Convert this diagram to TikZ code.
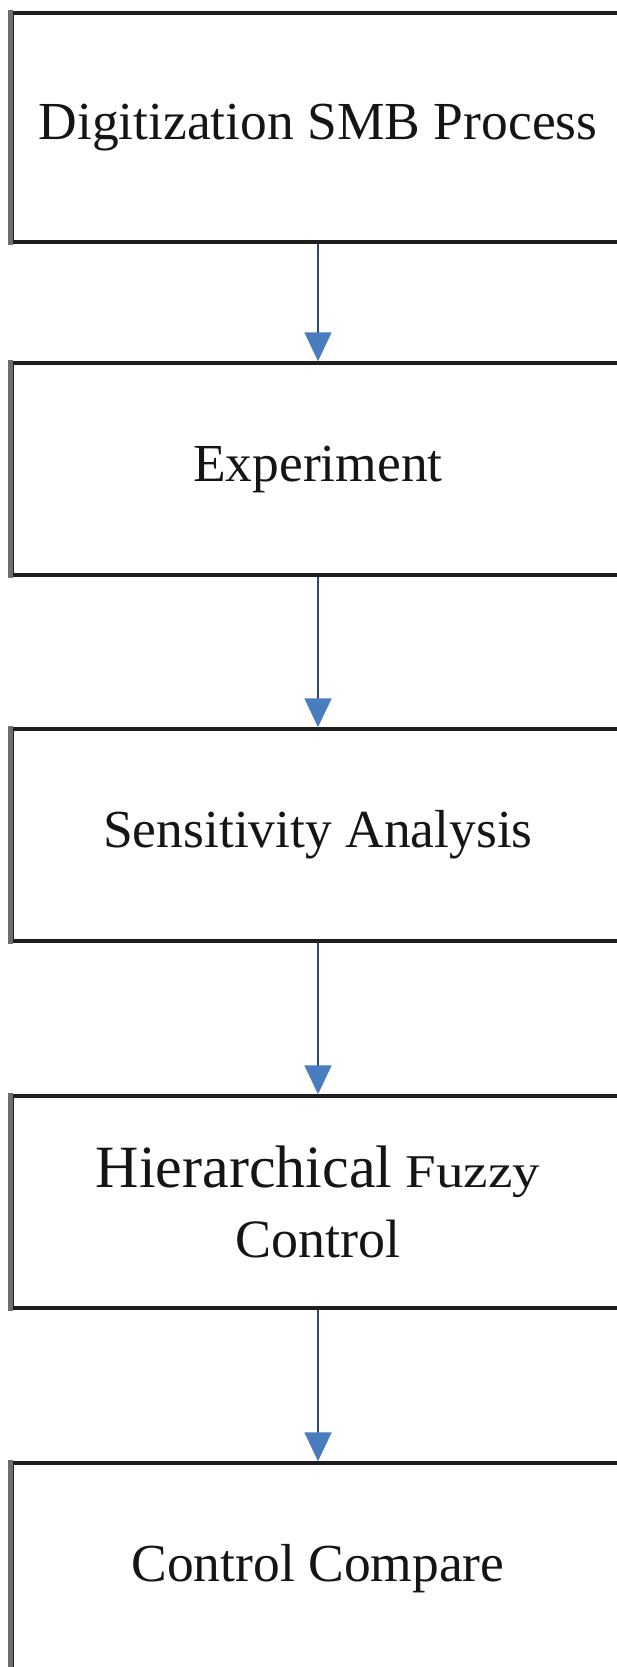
\documentclass[tikz,border=0pt]{standalone}
\usepackage{fontspec}
\setmainfont{Liberation Serif}
\usetikzlibrary{arrows.meta}
\definecolor{arrowblue}{HTML}{4A7CC0}
\definecolor{arrowline}{HTML}{2E4A70}
\definecolor{boxline}{HTML}{1E1E1E}
\definecolor{leftline}{HTML}{6E6E6E}
\definecolor{textcol}{HTML}{151515}
\tikzset{
  stepbox/.style={draw=boxline, line width=3.5pt, fill=white, minimum width=612pt,
    text=textcol, align=center, inner sep=0pt, font=\fontsize{53.5}{64}\selectfont},
  leftedge/.style={draw=leftline, line width=5pt},
  flow/.style={draw=arrowline, line width=1.8pt,
    -{Triangle[width=27pt,length=29pt,color=arrowblue]}}
}
\begin{document}
\begin{tikzpicture}[x=1pt,y=-1pt]
\useasboundingbox[fill=white] (0,0) rectangle (617,1667);
\node[stepbox, minimum height=229pt] (b1) at (318,127.5) {Digitization SMB Process};
\node[stepbox, minimum height=212pt] (b2) at (318,469) {Experiment};
\node[stepbox, minimum height=212pt] (b3) at (318,835) {Sensitivity Analysis};
\node[stepbox, minimum height=212pt, font=\fontsize{54}{70}\selectfont] (b4) at (318,1202)
  {{\fontsize{60}{70}\selectfont Hierarchical}~{\fontsize{47}{70}\selectfont\scalebox{1.17}[1]{Fuzzy}}\\Control};
\node[stepbox, minimum height=212pt] (b5) at (318,1569) {Control Compare};
\foreach \b in {b1,b2,b3,b4,b5}{
  \draw[leftedge] ([yshift=1.5pt]\b.north west) -- ([yshift=-1.5pt]\b.south west);
}
\draw[flow] (b1.south) -- (b2.north);
\draw[flow] (b2.south) -- (b3.north);
\draw[flow] (b3.south) -- (b4.north);
\draw[flow] (b4.south) -- (b5.north);
\end{tikzpicture}
\end{document}
